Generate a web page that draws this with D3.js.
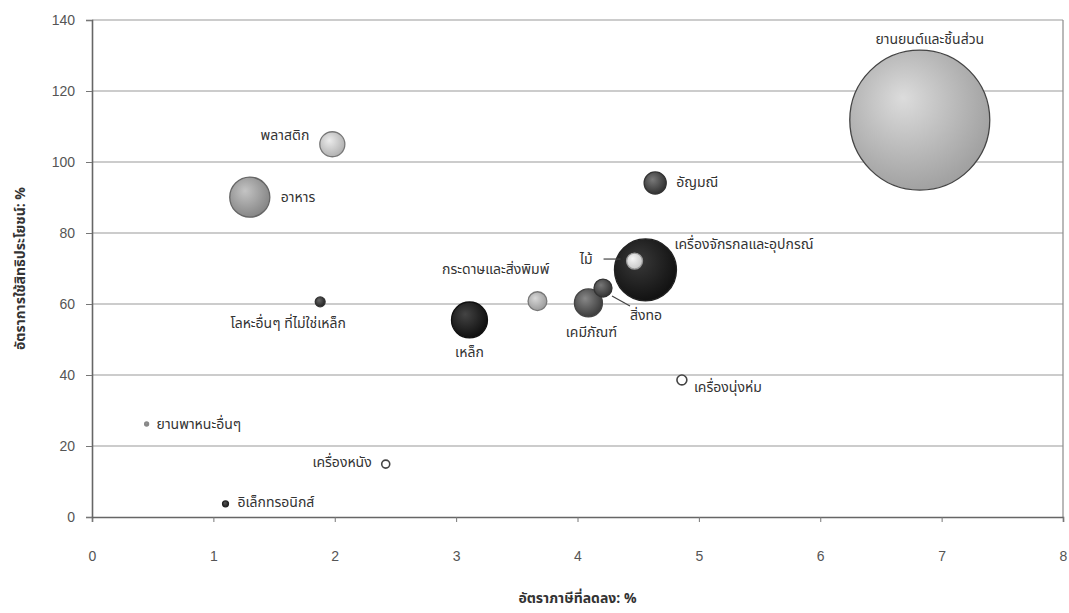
<!DOCTYPE html>
<html><head><meta charset="utf-8">
<script src="https://cdn.jsdelivr.net/npm/d3@7"></script>
<style>
body{margin:0;background:#fff;}
text{font-family:"Noto Sans Thai","Noto Sans Thai UI",Tahoma,"Noto Sans",sans-serif;}
</style></head>
<body><svg id="c" width="1069" height="613"></svg>
<script>
const categories = ["ยานยนต์และชิ้นส่วน","พลาสติก","อาหาร","อัญมณี","เครื่องจักรกลและอุปกรณ์","ไม้","กระดาษและสิ่งพิมพ์","สิ่งทอ","เคมีภัณฑ์","เหล็ก","โลหะอื่นๆ ที่ไม่ใช่เหล็ก","เครื่องนุ่งห่ม","ยานพาหนะอื่นๆ","เครื่องหนัง","อิเล็กทรอนิกส์"];
const taxReduction = [6.82,1.98,1.30,4.64,4.56,4.47,3.67,4.21,4.09,3.11,1.88,4.86,0.45,2.42,1.10];
const utilization  = [111.8,105.0,90.1,94.1,69.6,72.1,60.8,64.5,60.3,55.5,60.6,38.6,26.2,14.9,3.7];
const bubbleSize   = [100,3.2,8.2,2.5,19.6,1.3,1.8,1.65,4.0,6.6,0.5,0.5,0.08,0.33,0.18];
const xTicks = [0,1,2,3,4,5,6,7,8];
const yTicks = [0,20,40,60,80,100,120,140];
const xTitle = "อัตราภาษีที่ลดลง: %";
const yTitle = "อัตราการใช้สิทธิประโยชน์: %";

// styles (not data): shading and label placement
const shades = [["#dcdcdc","#a0a0a0"],["#ececec","#b0b0b0"],["#c4c4c4","#858585"],["#7a7a7a","#303030"],["#3a3a3a","#111"],["#f6f6f6","#c8c8c8"],["#d8d8d8","#9a9a9a"],["#777","#333"],["#888","#3a3a3a"],["#444","#0e0e0e"],["#666","#222"],["#fff","#fff"],["#999","#777"],["#fff","#fff"],["#555","#222"]];
const strokes = ["#444","#777","#666","#333","#222","#999","#777","#333","#444","#111","#333","#444","#888","#444","#222"];
// label placement: anchor, dx, dy (relative to bubble centre)
const labelLayout = [["middle",10,-80],["end",-23,-8],["start",31,1],["start",21,0],["start",29,-25],["end",-42,-1],["end",12,-31],["start",27,28],["middle",3,30],["middle",0,33],["middle",-32,22],["start",12,8],["start",10,1],["end",-14,-1],["start",12,-1]];
const leaders = {5:[[-31,-2],[-14,-2]], 7:[[9,8],[27,18]]};

const svg = d3.select("#c");
const W=1069,H=613;
const m={l:92,r:6,t:20,b:96};
const x=d3.scaleLinear().domain([0,8]).range([m.l,W-m.r]);
const y=d3.scaleLinear().domain([0,140]).range([H-m.b,m.t]);
const r=d3.scaleSqrt().domain([0,100]).range([0,70]);

// grid
svg.append("g").selectAll("line").data(yTicks.filter(d=>d>0)).join("line")
 .attr("x1",x(0)).attr("x2",x(8)).attr("y1",d=>y(d)).attr("y2",d=>y(d))
 .attr("stroke","#9a9a9a").attr("stroke-width",1.2);
// right border
svg.append("line").attr("x1",x(8)).attr("x2",x(8)).attr("y1",y(140)).attr("y2",y(0)).attr("stroke","#8a8a8a").attr("stroke-width",1.2);

const xa=svg.append("g").attr("transform",`translate(0,${y(0)})`)
 .call(d3.axisBottom(x).tickValues(xTicks).tickSize(5).tickPadding(29).tickFormat(d3.format("d")));
const ya=svg.append("g").attr("transform",`translate(${x(0)},0)`)
 .call(d3.axisLeft(y).tickValues(yTicks).tickSize(6).tickPadding(11).tickFormat(d3.format("d")));
[xa,ya].forEach(a=>{
 a.select(".domain").attr("stroke","#666").attr("stroke-width",1.6);
 a.selectAll(".tick line").attr("stroke","#777");
 a.selectAll(".tick text").attr("fill","#555").style("font-family","Arial, 'Liberation Sans', sans-serif").style("font-size","14px");
});

const defs=svg.append("defs");
categories.forEach((c,i)=>{
 const g=defs.append("radialGradient").attr("id","g"+i).attr("cx","42%").attr("cy","40%").attr("r","62%").attr("fx","38%").attr("fy","34%");
 g.append("stop").attr("offset","0%").attr("stop-color",shades[i][0]);
 g.append("stop").attr("offset","100%").attr("stop-color",shades[i][1]);
});

const data=categories.map((c,i)=>({c,i,x:taxReduction[i],y:utilization[i],s:bubbleSize[i]}));
const order=data.slice().sort((a,b)=>b.s-a.s);
svg.append("g").selectAll("circle").data(order).join("circle")
 .attr("cx",d=>x(d.x)).attr("cy",d=>y(d.y)).attr("r",d=>Math.max(2,r(d.s)))
 .attr("fill",d=>`url(#g${d.i})`).attr("stroke",d=>strokes[d.i]).attr("stroke-width",d=>d.i===11||d.i===13?1.6:1.3);

Object.entries(leaders).forEach(([i,pts])=>{
 const d=data[+i];
 svg.append("line").attr("x1",x(d.x)+pts[0][0]).attr("y1",y(d.y)+pts[0][1]).attr("x2",x(d.x)+pts[1][0]).attr("y2",y(d.y)+pts[1][1]).attr("stroke","#444").attr("stroke-width",1.2);
});

svg.append("g").selectAll("text").data(data).join("text")
 .attr("x",d=>x(d.x)+labelLayout[d.i][1]).attr("y",d=>y(d.y)+labelLayout[d.i][2])
 .attr("text-anchor",d=>labelLayout[d.i][0]).attr("dominant-baseline","middle")
 .attr("fill","#333").style("font-size","14px").text(d=>d.c);

svg.append("text").attr("x",(x(0)+x(8))/2).attr("y",603).attr("text-anchor","middle")
 .style("font-size","14px").style("font-weight","bold").attr("fill","#333").text(xTitle);
svg.append("text").attr("transform",`translate(21,${(y(0)+y(140))/2}) rotate(-90)`).attr("text-anchor","middle")
 .attr("dominant-baseline","middle").style("font-size","14px").style("font-weight","bold").attr("fill","#333").text(yTitle);
</script></body></html>
